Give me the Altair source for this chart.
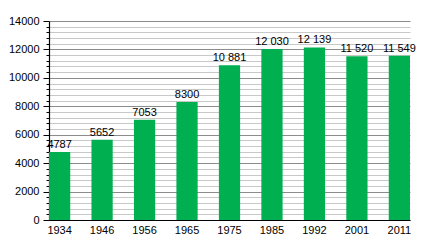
import altair as alt
import pandas as pd

years = ["1934", "1946", "1956", "1965", "1975", "1985", "1992", "2001", "2011"]
population = [4787, 5652, 7053, 8300, 10881, 12030, 12139, 11520, 11549]

def fmt(v):
    return f"{v:,}".replace(",", " ") if v >= 10000 else str(v)

df = pd.DataFrame({"year": years, "pop": population, "label": [fmt(v) for v in population]})

major = list(range(0, 14001, 2000))
minor = [v for v in range(0, 14001, 400) if v % 2000 != 0]

FONT = "Liberation Sans"
GREEN = "#00b050"

xenc = alt.X("year:N", sort=years, title=None,
             scale=alt.Scale(paddingInner=0.5, paddingOuter=0),
             axis=alt.Axis(labelAngle=0, ticks=False, domainColor="#000", domainWidth=1.2,
                           labelFont=FONT, labelFontSize=11, labelColor="#000", labelPadding=4))

yscale = alt.Scale(domain=[0, 14000], nice=False)

minor_layer = alt.Chart(df).mark_bar(opacity=0).encode(
    x=xenc,
    y=alt.Y("pop:Q", scale=yscale, title=None,
            axis=alt.Axis(orient="left", values=minor, labels=False, tickSize=3,
                          tickColor="#000", grid=True, gridColor="#c8c8c8", gridWidth=1,
                          domain=False)),
)

bars = alt.Chart(df).mark_bar(color=GREEN).encode(
    x=xenc,
    y=alt.Y("pop:Q", scale=yscale, title=None,
            axis=alt.Axis(orient="left", values=major, tickSize=6, tickColor="#000",
                          grid=True, gridColor="#8c8c8c", gridWidth=1,
                          domainColor="#000", domainWidth=1.2,
                          labelFont=FONT, labelFontSize=11, labelColor="#000",
                          labelPadding=4, format="d")),
)

text = alt.Chart(df).mark_text(font=FONT, fontSize=11, color="#000", baseline="alphabetic", dy=-4).encode(
    x=alt.X("year:N", sort=years),
    y=alt.Y("pop:Q", scale=yscale, axis=None),
    text="label:N",
)

chart = alt.layer(minor_layer, bars, text).resolve_axis(y="independent").properties(
    width=361, height=199,
    padding={"left": 49, "top": 21, "right": 30, "bottom": 20},
    autosize=alt.AutoSizeParams(type="none"),
).configure_view(stroke=None)

chart.save("out.html", embed_options={"renderer": "svg", "actions": False})
